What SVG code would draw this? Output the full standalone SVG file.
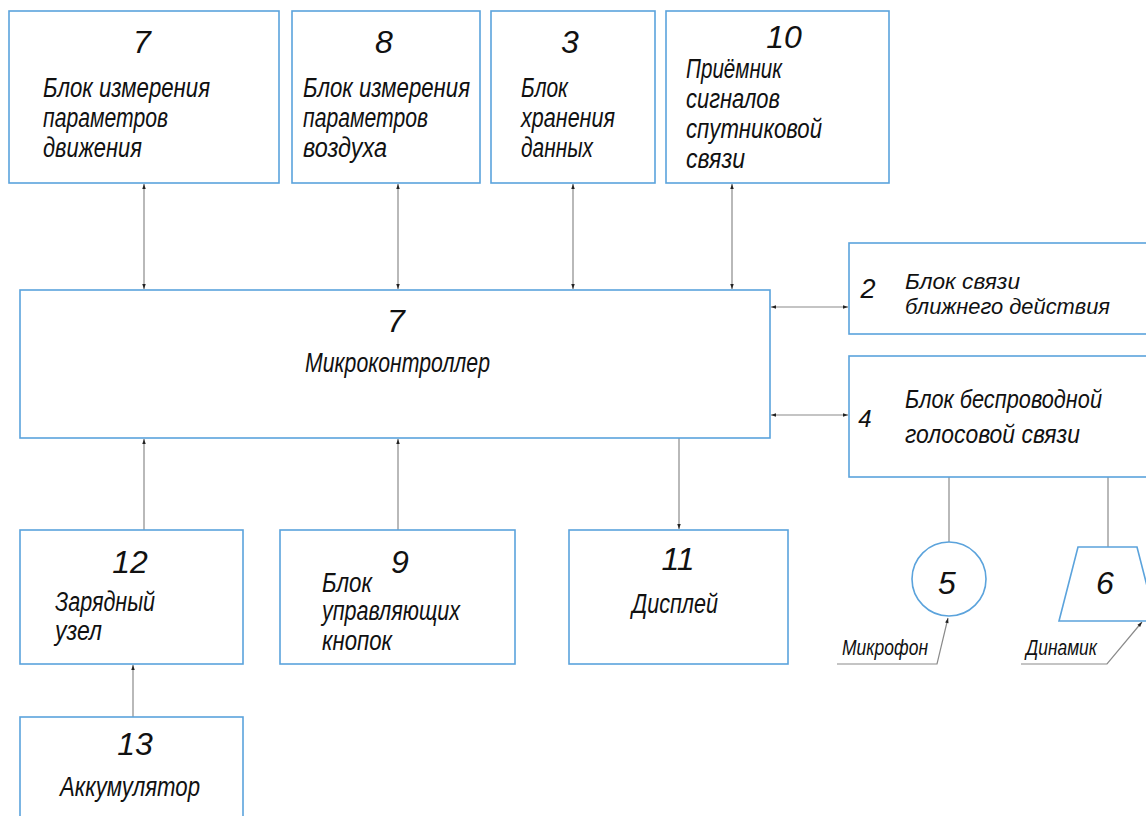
<svg xmlns="http://www.w3.org/2000/svg" width="1146" height="816" viewBox="0 0 1146 816">
<defs>
<style>
.box{fill:#fff;stroke:#5ba3dc;stroke-width:1.6}
.ln{fill:none;stroke:#8a8a8a;stroke-width:1.2}
.t{font-family:"Liberation Sans Narrow","Liberation Sans",sans-serif;font-style:italic;font-size:27px;fill:#111}
.n{font-family:"Liberation Sans Narrow","Liberation Sans",sans-serif;font-style:italic;font-size:32px;fill:#111;text-anchor:middle}
.s{font-family:"Liberation Sans Narrow","Liberation Sans",sans-serif;font-style:italic;font-size:22px;fill:#111}
</style>
<marker id="ah" viewBox="0 0 10 10" refX="10" refY="5" markerWidth="9" markerHeight="5" markerUnits="userSpaceOnUse" orient="auto-start-reverse">
<path d="M0,1.5 L10,5 L0,8.5 Z" fill="#222"/>
</marker>
</defs>
<rect width="1146" height="816" fill="#fff"/>

<g id="connectors">
<line class="ln" x1="144" y1="184" x2="144" y2="289" marker-start="url(#ah)" marker-end="url(#ah)"/>
<line class="ln" x1="398" y1="184" x2="398" y2="289" marker-start="url(#ah)" marker-end="url(#ah)"/>
<line class="ln" x1="573" y1="184" x2="573" y2="289" marker-start="url(#ah)" marker-end="url(#ah)"/>
<line class="ln" x1="732" y1="184" x2="732" y2="289" marker-start="url(#ah)" marker-end="url(#ah)"/>
<line class="ln" x1="771" y1="307" x2="848" y2="307" marker-start="url(#ah)" marker-end="url(#ah)"/>
<line class="ln" x1="771" y1="415" x2="848" y2="415" marker-start="url(#ah)" marker-end="url(#ah)"/>
<line class="ln" x1="144" y1="530" x2="144" y2="439" marker-end="url(#ah)"/>
<line class="ln" x1="398" y1="530" x2="398" y2="439" marker-end="url(#ah)"/>
<line class="ln" x1="679" y1="438" x2="679" y2="529" marker-end="url(#ah)"/>
<line class="ln" x1="133" y1="717" x2="133" y2="665" marker-end="url(#ah)"/>
<line class="ln" x1="949" y1="477" x2="949" y2="542"/>
<line class="ln" x1="1108" y1="477" x2="1108" y2="547"/>
<polyline class="ln" points="837,664 937,664 948,618" marker-end="url(#ah)"/>
<polyline class="ln" points="1021,664 1107,664 1142,622" marker-end="url(#ah)"/>
</g>

<g id="node7a">
<rect class="box" x="9" y="11" width="270" height="172"/>
<text class="n" x="142" y="53">7</text>
<text class="t" x="43" y="97" textLength="167" lengthAdjust="spacingAndGlyphs">Блок измерения</text>
<text class="t" x="43" y="127" textLength="125" lengthAdjust="spacingAndGlyphs">параметров</text>
<text class="t" x="43" y="157" textLength="99" lengthAdjust="spacingAndGlyphs">движения</text>
</g>

<g id="node8">
<rect class="box" x="292" y="11" width="188" height="172"/>
<text class="n" x="384" y="53">8</text>
<text class="t" x="303" y="97" textLength="167" lengthAdjust="spacingAndGlyphs">Блок измерения</text>
<text class="t" x="303" y="127" textLength="125" lengthAdjust="spacingAndGlyphs">параметров</text>
<text class="t" x="303" y="157" textLength="84" lengthAdjust="spacingAndGlyphs">воздуха</text>
</g>

<g id="node3">
<rect class="box" x="491" y="11" width="164" height="172"/>
<text class="n" x="570" y="53">3</text>
<text class="t" x="521" y="97" textLength="47" lengthAdjust="spacingAndGlyphs">Блок</text>
<text class="t" x="521" y="127" textLength="94" lengthAdjust="spacingAndGlyphs">хранения</text>
<text class="t" x="521" y="157" textLength="72" lengthAdjust="spacingAndGlyphs">данных</text>
</g>

<g id="node10">
<rect class="box" x="666" y="11" width="223" height="172"/>
<text class="n" x="784" y="48">10</text>
<text class="t" x="686" y="78" textLength="96" lengthAdjust="spacingAndGlyphs">Приёмник</text>
<text class="t" x="686" y="108" textLength="94" lengthAdjust="spacingAndGlyphs">сигналов</text>
<text class="t" x="686" y="138" textLength="136" lengthAdjust="spacingAndGlyphs">спутниковой</text>
<text class="t" x="686" y="168" textLength="59" lengthAdjust="spacingAndGlyphs">связи</text>
</g>

<g id="node7mc">
<rect class="box" x="20" y="290" width="750" height="148"/>
<text class="n" x="396" y="332">7</text>
<text class="t" x="305" y="372" textLength="185" lengthAdjust="spacingAndGlyphs">Микроконтроллер</text>
</g>

<g id="node2">
<rect class="box" x="849" y="243" width="298" height="91"/>
<text class="n" x="868" y="298" style="font-size:27px">2</text>
<text class="t" x="905" y="289" style="font-size:22px" textLength="115" lengthAdjust="spacingAndGlyphs">Блок связи</text>
<text class="t" x="905" y="314" style="font-size:22px" textLength="205" lengthAdjust="spacingAndGlyphs">ближнего действия</text>
</g>

<g id="node4">
<rect class="box" x="849" y="356" width="298" height="121"/>
<text class="n" x="865" y="427" style="font-size:24px">4</text>
<text class="t" x="905" y="408" style="font-size:26px" textLength="197" lengthAdjust="spacingAndGlyphs">Блок беспроводной</text>
<text class="t" x="905" y="443" style="font-size:26px" textLength="175" lengthAdjust="spacingAndGlyphs">голосовой связи</text>
</g>

<g id="node5">
<circle class="box" cx="949" cy="579" r="37"/>
<text class="n" x="947" y="594">5</text>
<text class="s" x="842" y="655" textLength="86" lengthAdjust="spacingAndGlyphs">Микрофон</text>
</g>

<g id="node6">
<polygon class="box" points="1078,547 1137,547 1156,621 1059,621"/>
<text class="n" x="1105" y="594">6</text>
<text class="s" x="1026" y="655" textLength="71" lengthAdjust="spacingAndGlyphs">Динамик</text>
</g>

<g id="node12">
<rect class="box" x="20" y="530" width="223" height="134"/>
<text class="n" x="130" y="573">12</text>
<text class="t" x="55" y="611" textLength="100" lengthAdjust="spacingAndGlyphs">Зарядный</text>
<text class="t" x="55" y="640" textLength="47" lengthAdjust="spacingAndGlyphs">узел</text>
</g>

<g id="node9">
<rect class="box" x="280" y="530" width="235" height="134"/>
<text class="n" x="400" y="573">9</text>
<text class="t" x="322" y="592" textLength="50" lengthAdjust="spacingAndGlyphs">Блок</text>
<text class="t" x="322" y="620" textLength="138" lengthAdjust="spacingAndGlyphs">управляющих</text>
<text class="t" x="322" y="650" textLength="70" lengthAdjust="spacingAndGlyphs">кнопок</text>
</g>

<g id="node11">
<rect class="box" x="569" y="530" width="219" height="134"/>
<text class="n" x="678" y="570">11</text>
<text class="t" x="632" y="613" textLength="86" lengthAdjust="spacingAndGlyphs">Дисплей</text>
</g>

<g id="node13">
<rect class="box" x="20" y="717" width="223" height="120"/>
<text class="n" x="135" y="755">13</text>
<text class="t" x="60" y="796" textLength="140" lengthAdjust="spacingAndGlyphs">Аккумулятор</text>
</g>
</svg>
